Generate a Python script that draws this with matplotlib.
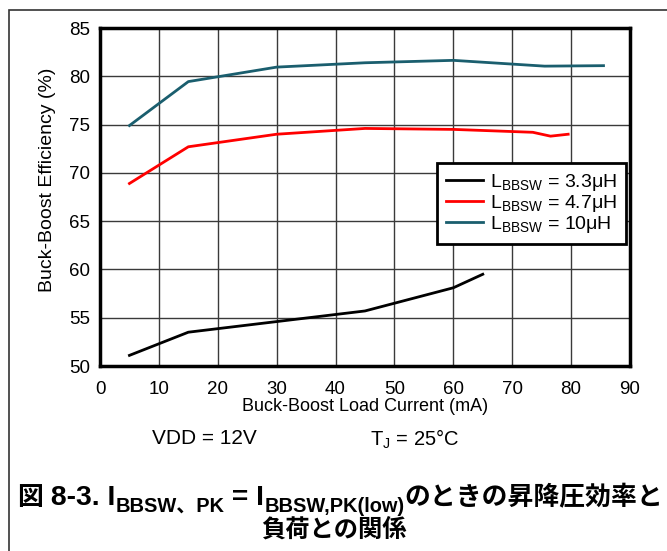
import matplotlib
matplotlib.use("Agg")
import matplotlib.pyplot as plt
import matplotlib.patches as patches

plt.rcParams['font.family'] = ['Liberation Sans', 'Noto Sans CJK JP', 'DejaVu Sans']

# data
x_33 = [5, 15, 30, 45, 60, 65]
y_33 = [51.1, 53.5, 54.6, 55.7, 58.1, 59.5]
x_47 = [5, 15, 30, 45, 60, 73.5, 76.5, 79.5]
y_47 = [68.9, 72.7, 74.0, 74.6, 74.5, 74.2, 73.8, 74.0]
x_10 = [5, 15, 30, 45, 60, 75.5, 85.5]
y_10 = [74.9, 79.45, 80.95, 81.4, 81.65, 81.05, 81.1]

labels = [r'L$_{\mathregular{BBSW}}$ = 3.3$\mathregular{\mu}$H',
          r'L$_{\mathregular{BBSW}}$ = 4.7$\mathregular{\mu}$H',
          r'L$_{\mathregular{BBSW}}$ = 10$\mathregular{\mu}$H']
colors = ['black', '#ff0000', '#1a5e6e']

W, H = 667, 551
fig = plt.figure(figsize=(W / 100, H / 100), dpi=100)

# outer frame
fig.patches.append(patches.Rectangle((9 / W, -0.05), 1.1, 1 - 10 / H + 0.05,
                                     transform=fig.transFigure, fill=False,
                                     edgecolor='#333333', linewidth=1.2))

ax = fig.add_axes([100 / W, 1 - 366 / H, 530 / W, 338 / H])
ax.plot(x_33, y_33, color=colors[0], lw=2, label=labels[0])
ax.plot(x_47, y_47, color=colors[1], lw=2, label=labels[1])
ax.plot(x_10, y_10, color=colors[2], lw=2, label=labels[2])

ax.set_xlim(0, 90)
ax.set_ylim(50, 85)
ax.set_xticks(range(0, 91, 10))
ax.set_yticks(range(50, 86, 5))
ax.grid(True, color='#3a3a3a', lw=1)
ax.set_axisbelow(True)
for s in ax.spines.values():
    s.set_linewidth(2.5)
ax.tick_params(length=0, labelsize=13.5)
ax.tick_params(axis='x', pad=11)
ax.tick_params(axis='y', pad=7)
ax.set_xlabel('Buck-Boost Load Current (mA)', fontsize=13, labelpad=0)
ax.set_ylabel('Buck-Boost Efficiency (%)', fontsize=14)
ax.yaxis.set_label_coords(-0.083, 0.55)

leg = ax.legend(loc='upper left', bbox_to_anchor=((437 - 100) / 530, (366 - 163) / 338),
                borderaxespad=0, fontsize=14, frameon=True, fancybox=False,
                handlelength=1.9, labelspacing=0.0, handletextpad=0.4,
                borderpad=0.45)
leg.get_frame().set_edgecolor('black')
leg.get_frame().set_linewidth(2)
leg.get_frame().set_alpha(1)

fig.text(152 / W, 1 - 439 / H, 'VDD = 12V', fontsize=15, va='center')
fig.text(370 / W, 1 - 439 / H, r'T$_{\mathregular{J}}$ = 25°C', fontsize=14.5, va='center')

# caption built from runs: (text, kind) with kind latin / cjk / sub
renderer = fig.canvas.get_renderer()


def caption_line(runs, sizes, cx, base_y):
    items = []
    total = 0
    for txt, kind in runs:
        t = fig.text(0, 0, txt, fontsize=sizes[kind], fontweight='bold',
                     va='baseline', ha='left')
        w = t.get_window_extent(renderer).width
        items.append((t, kind, w))
        total += w
    x = cx - total / 2
    for t, kind, w in items:
        y = base_y + (7 if kind == 'sub' else 0)
        t.set_position((x / W, 1 - y / H))
        x += w


caption_line([('図', 'cjk'), (' 8-3. I', 'latin'), ('BBSW、PK', 'sub'), (' = I', 'latin'),
              ('BBSW,PK(low)', 'sub'), ('のときの昇降圧効率と', 'cjk')],
             {'latin': 20.3, 'cjk': 18.6, 'sub': 14.4}, 340, 505)
caption_line([('負荷との関係', 'cjk')], {'cjk': 17.5}, 334, 537)

fig.savefig('out.png', dpi=100)
